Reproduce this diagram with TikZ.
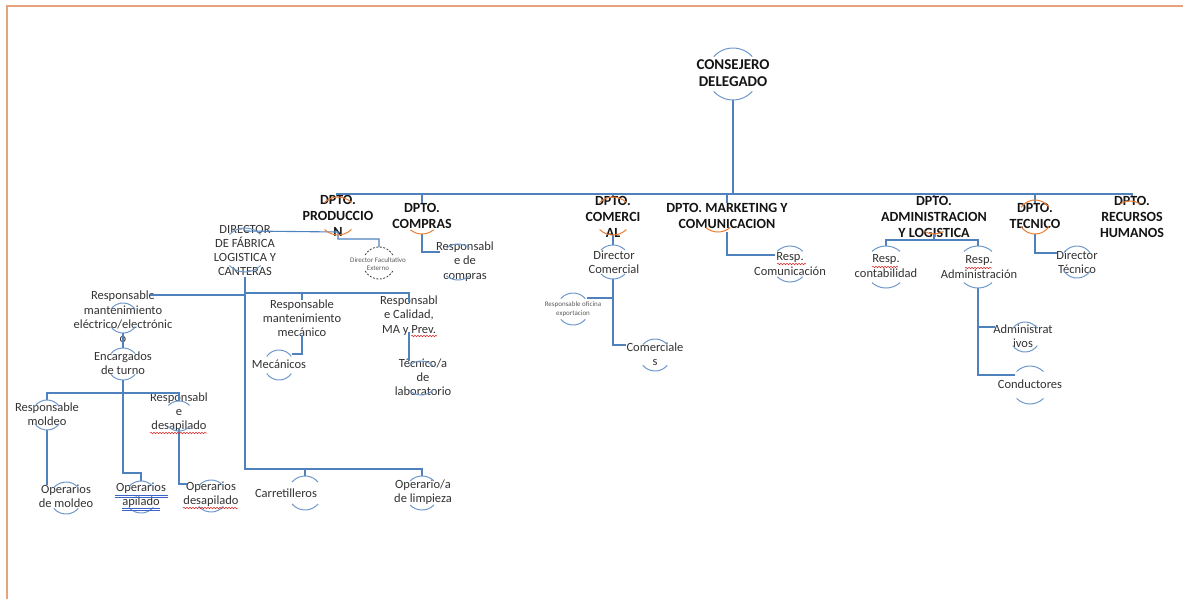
\documentclass[tikz,border=0pt]{standalone}
\usepackage{fontspec}
\setmainfont{Carlito}
\usetikzlibrary{decorations.pathmorphing}
\definecolor{lineblue}{RGB}{79,129,189}
\definecolor{ringblue}{RGB}{110,152,204}
\definecolor{ringorange}{RGB}{237,125,49}
\definecolor{framec}{RGB}{231,164,124}
\definecolor{textgray}{RGB}{50,50,50}
\definecolor{headc}{RGB}{20,20,20}
\definecolor{smallc}{RGB}{90,90,90}
\definecolor{wavyred}{RGB}{220,40,40}
\definecolor{ulblue}{RGB}{60,100,200}
\newcommand\ctop[4]{\draw[#4] (#1.center) ++({90+#3}:#2) arc[start angle={90+#3}, end angle={90-#3}, radius=#2];}
\newcommand\cbot[4]{\draw[#4] (#1.center) ++({270-#3}:#2) arc[start angle={270-#3}, end angle={270+#3}, radius=#2];}
\newcommand\cboth[4]{\ctop{#1}{#2}{#3}{#4}\cbot{#1}{#2}{#3}{#4}}
\begin{document}
\begin{tikzpicture}[x=1pt,y=1pt,
  conn/.style={draw=lineblue, line width=1.1pt},
  ring/.style={draw=ringblue, line width=1pt},
  oring/.style={draw=ringorange, line width=1pt},
  dring/.style={draw=black!75, line width=0.8pt, dash pattern=on 2pt off 1.5pt},
  hub/.style={circle, inner sep=0pt, outer sep=0pt, draw=none},
  txt/.style={align=center, inner sep=0pt, text=textgray, font=\fontsize{12.5}{14.2}\selectfont},
  head/.style={align=center, inner sep=0pt, text=headc, font=\bfseries\fontsize{14}{16}\selectfont},
  bighead/.style={align=center, inner sep=0pt, text=headc, font=\bfseries\fontsize{15}{17}\selectfont},
  smallseven/.style={align=center, inner sep=0pt, text=smallc, font=\fontsize{7}{8.5}\selectfont},
  wavy/.style={draw=wavyred, line width=0.5pt, decorate, decoration={snake, amplitude=0.8pt, segment length=3pt}},
  ulb/.style={draw=ulblue, line width=0.6pt}]
\useasboundingbox (0,0) rectangle (1183,-599);
% frame
\draw[framec, line width=2pt] (7,-599) -- (7,-6) -- (1183,-6);

% ---------- text nodes ----------
\node[bighead] (tcd) at (733,-73.5) {CONSEJERO\\DELEGADO};
\node[head] (tprod) at (338,-216) {DPTO.\\PRODUCCIO\\N};
\node[head] (tcomp) at (422,-215.5) {DPTO.\\COMPRAS};
\node[head] (tcome) at (613,-216.5) {DPTO.\\COMERCI\\AL};
\node[head] (tmkt) at (727,-215.5) {DPTO. MARKETING Y\\COMUNICACION};
\node[head] (tadm) at (934,-216.5) {DPTO.\\ADMINISTRACION\\Y LOGISTICA};
\node[head] (ttec) at (1035,-215.5) {DPTO.\\TECNICO};
\node[head] (trrhh) at (1132,-216.5) {DPTO.\\RECURSOS\\HUMANOS};
\node[txt] (tdirf) at (245,-250.5) {DIRECTOR\\DE FÁBRICA\\LOGISTICA Y\\CANTERAS};
\node[smallseven] (tdfe) at (378,-264) {Director Facultativo\\Externo};
\node[txt] (trcomp) at (465,-261.5) {Responsabl\\e de\\compras};
\node[txt] (tdcom) at (614,-262) {Director\\Comercial};
\node[smallseven] (troe) at (573,-309) {Responsable oficina\\exportacion};
\node[txt] (tcomerc) at (655,-354.5) {Comerciale\\s};
\node[txt] (trcomu) at (790,-264) {Resp.\\Comunicación};
\node[txt] (trcont) at (886,-266) {Resp.\\contabilidad};
\node[txt] (tradm) at (979,-267) {Resp.\\Administración};
\node[txt] (tadmv) at (1023,-336) {Administrat\\ivos};
\node[txt] (tcond) at (1030,-384) {Conductores};
\node[txt] (tdtec) at (1077,-262) {Director\\Técnico};
\node[txt] (trme) at (123,-317) {Responsable\\mantenimiento\\eléctrico/electrónic\\o};
\node[txt] (tenc) at (123,-363) {Encargados\\de turno};
\node[txt] (trmol) at (47,-414) {Responsable\\moldeo};
\node[txt] (trdes) at (179,-412) {Responsabl\\e\\desapilado};
\node[txt] (tomol) at (66,-496.5) {Operarios\\de moldeo};
\node[txt] (toapi) at (141,-495.5) {Operarios\\apilado};
\node[txt] (todes) at (211,-494) {Operarios\\desapilado};
\node[txt] (trmm) at (302,-318.5) {Responsable\\mantenimiento\\mecánico};
\node[txt] (tmec) at (279,-364) {Mecánicos};
\node[txt] (trcal) at (409,-315.5) {Responsabl\\e Calidad,\\MA y Prev.};
\node[txt] (ttlab) at (423,-377) {Técnico/a\\de\\laboratorio};
\node[txt] (tcarr) at (286,-493) {Carretilleros};
\node[txt] (tolim) at (423,-492.5) {Operario/a\\de limpieza};

% ---------- circle hubs ----------
\node[hub, minimum size=52pt] (ccd) at (733,-74) {};
\node[hub, minimum size=38pt] (cprod) at (338,-216) {};
\node[hub, minimum size=36pt] (ccomp) at (422,-216) {};
\node[hub, minimum size=38pt] (ccome) at (613,-216) {};
\node[hub, minimum size=38pt] (cmkt) at (718,-213) {};
\node[hub, minimum size=38pt] (cadm) at (934,-215) {};
\node[hub, minimum size=34pt] (ctec) at (1035,-217) {};
\node[hub, minimum size=38pt] (crrhh) at (1130,-220) {};
\node[hub, minimum size=44pt] (cdirf) at (245,-250) {};
\node[hub, minimum size=32pt] (cdfe) at (379,-263) {};
\node[hub, minimum size=36pt] (crcomp) at (458,-262) {};
\node[hub, minimum size=34pt] (cdcom) at (613,-262) {};
\node[hub, minimum size=32pt] (croe) at (573,-309) {};
\node[hub, minimum size=32pt] (ccomerc) at (655,-355) {};
\node[hub, minimum size=36pt] (crcomu) at (790,-264) {};
\node[hub, minimum size=42pt] (crcont) at (886,-267) {};
\node[hub, minimum size=42pt] (cradm) at (978,-267) {};
\node[hub, minimum size=30pt] (cadmv) at (1025,-337) {};
\node[hub, minimum size=38pt] (ccond) at (1030,-385) {};
\node[hub, minimum size=32pt] (cdtec) at (1077,-262) {};
\node[hub, minimum size=30pt] (crme) at (123,-318) {};
\node[hub, minimum size=32pt] (cenc) at (123,-364) {};
\node[hub, minimum size=30pt] (crmol) at (47,-415) {};
\node[hub, minimum size=30pt] (crdes) at (179,-416) {};
\node[hub, minimum size=32pt] (comol) at (66,-498) {};
\node[hub, minimum size=32pt] (coapi) at (141,-497) {};
\node[hub, minimum size=32pt] (codes) at (211,-496) {};
\node[hub, minimum size=30pt] (cmec) at (279,-365) {};
\node[hub, minimum size=34pt] (ctlab) at (421,-378) {};
\node[hub, minimum size=34pt] (ccarr) at (305,-493) {};
\node[hub, minimum size=34pt] (colim) at (422,-493) {};

% ---------- junction coordinates ----------
\coordinate (busL) at (336,-194);
\coordinate (busR) at (1133,-194);
\coordinate (jdir) at (245,-231);
\coordinate (jprod) at (338,-232);
\coordinate (jrcomp) at (440,-252);
\coordinate (jcomerc) at (626,-345);
\coordinate (jroe) at (587,-298);
\coordinate (jmkt) at (727,-232);
\coordinate (jcomu) at (775,-255);
\coordinate (jadm) at (934,-234);
\coordinate (jadm2) at (934,-240);
\coordinate (jcond) at (1015,-375);
\coordinate (jadmv) at (995,-327);
\coordinate (jdtec) at (1057,-253);
\coordinate (jdirb) at (245,-277);
\coordinate (jbot) at (245,-469);
\coordinate (jr) at (245,-293);
\coordinate (jcal) at (409,-302);
\coordinate (jl) at (150,-295);
\coordinate (jenc) at (123,-393);
\coordinate (japi) at (123,-473);
\coordinate (jdes) at (179,-428);
\coordinate (jodes) at (187,-484);
\coordinate (jmm) at (302,-335);
\coordinate (jmec) at (292,-354);
\coordinate (jcal2) at (409,-332);

% ---------- connectors ----------
\draw[conn] (busL) -- (busR);
\draw[conn] (ccd.south) -- (ccd.south |- busL);
\foreach \h in {tprod,tcomp,tcome,tmkt,tadm,ttec,trrhh}
  \draw[conn] (\h.north |- busL) -- (\h.north);
% produccion
\draw[conn] (jdir) -- (jprod) -- ++(0,-7) -| (cdfe.north);
% compras
\draw[conn] (ccomp.south) |- (jrcomp);
% comercial
\draw[conn] (ccome.south) -- (cdcom.north);
\draw[conn] (cdcom.south) |- (jcomerc);
\draw[conn] (jroe) -- (jroe -| cdcom);
% marketing
\draw[conn] (jmkt) |- (jcomu);
% administracion
\draw[conn] (jadm) -- (jadm2);
\draw[conn] (crcont.north) |- (jadm2) -| (cradm.north);
\draw[conn] (cradm.south) |- (jcond);
\draw[conn] (jadmv) -- (jadmv -| cradm);
% tecnico
\draw[conn] (ctec.south) |- (jdtec);
% director de fabrica
\draw[conn] (jdirb) -- (jbot) -| (colim.north);
\draw[conn] (jbot -| ccarr) -- (ccarr.north);
\draw[conn] (jr) -| (jcal);
\draw[conn] (jr -| trmm) -- (trmm.north);
\draw[conn] (jl) -- (jl -| jr);
% electrico / encargados
\draw[conn] (crme.south) -- (cenc.north);
\draw[conn] (cenc.south) -- (jenc);
\draw[conn] (crmol.north) |- (jenc) -| (crdes.north);
\draw[conn] (jenc) -- (japi) -| (coapi.north);
\draw[conn] (crmol.south) -- (crmol.south |- tomol.north);
\draw[conn] (jdes) |- (jodes);
% mecanico
\draw[conn] (jmm) |- (jmec);
% calidad
\draw[conn] (jcal2) -- (jcal2 |- ctlab.north);

% ---------- circle arcs ----------
\cboth{ccd}{26}{48}{ring}
\cboth{cprod}{19}{45}{oring}
\cbot{ccomp}{18}{40}{oring}
\cboth{ccome}{19}{45}{oring}
\cbot{cmkt}{19}{40}{oring}
\cbot{cadm}{19}{30}{oring}
\cboth{ctec}{17}{55}{oring}
\ctop{crrhh}{19}{30}{oring}
\cboth{cdirf}{22}{45}{ring}
\cboth{cdfe}{16}{60}{dring}
\cboth{crcomp}{18}{40}{ring}
\cboth{cdcom}{17}{45}{ring}
\cboth{croe}{16}{50}{ring}
\cboth{ccomerc}{16}{50}{ring}
\cboth{crcomu}{18}{45}{ring}
\cboth{crcont}{21}{42}{ring}
\cboth{cradm}{21}{42}{ring}
\cboth{cadmv}{15}{55}{ring}
\cboth{ccond}{19}{45}{ring}
\cboth{cdtec}{16}{55}{ring}
\cboth{crme}{15}{55}{ring}
\cboth{cenc}{16}{50}{ring}
\cboth{crmol}{15}{55}{ring}
\cboth{crdes}{15}{45}{ring}
\cboth{comol}{16}{50}{ring}
\cboth{coapi}{16}{50}{ring}
\cboth{codes}{16}{50}{ring}
\cboth{cmec}{15}{55}{ring}
\cboth{ctlab}{17}{45}{ring}
\cboth{ccarr}{17}{50}{ring}
\cboth{colim}{17}{45}{ring}

% ---------- spell-check underlines ----------
\draw[wavy] (777,-264) -- (806,-264);
\draw[wavy] (872,-267) -- (898,-267);
\draw[wavy] (965,-268) -- (992,-268);
\draw[wavy] (150,-433) -- (207,-433);
\draw[wavy] (183,-508) -- (238,-508);
\draw[wavy] (411,-336) -- (437,-336);
\draw[ulb] (115,-495) -- (168,-495);
\draw[ulb] (115,-497.5) -- (168,-497.5);
\draw[ulb] (122,-508) -- (160,-508);
\draw[ulb] (122,-510.5) -- (160,-510.5);
\end{tikzpicture}
\end{document}
